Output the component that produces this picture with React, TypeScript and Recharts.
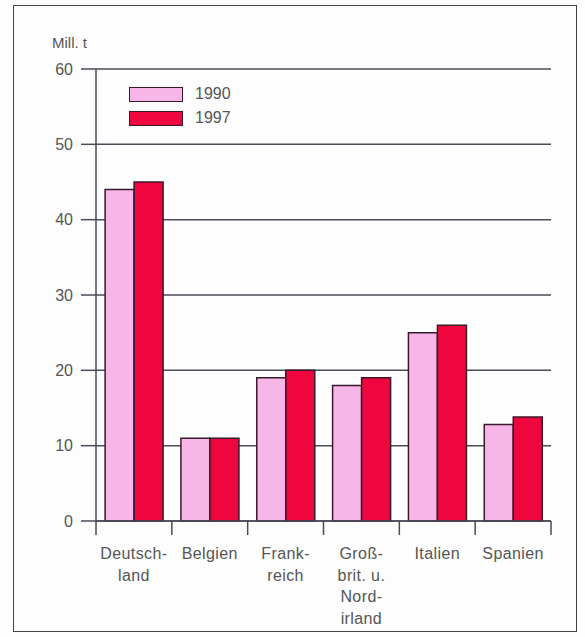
import React from 'react';
import { BarChart, Bar, XAxis, YAxis, CartesianGrid, Legend } from 'recharts';

const categories = ['Deutsch-\nland', 'Belgien', 'Frank-\nreich', 'Groß-\nbrit. u.\nNord-\nirland', 'Italien', 'Spanien'];
const values1990 = [44, 11, 19, 18, 25, 12.8];
const values1997 = [45, 11, 20, 19, 26, 13.8];
const yTicks = [0, 10, 20, 30, 40, 50, 60];
const seriesNames = ['1990', '1997'];

const data = categories.map((c, i) => ({ name: c, v1990: values1990[i], v1997: values1997[i] }));

const TEXT = '#555555';
const LINE = '#4a4a58';
const FONT = '"Liberation Sans", Arial, Helvetica, sans-serif';

const CatTick = (props: any) => {
  const { x, y, payload, index, visibleTicksCount } = props;
  const half = payload && typeof payload.offset === 'number' && payload.offset > 0 ? payload.offset : 0;
  const lines = String(payload.value).split('\n');
  const isLast = index === (visibleTicksCount ?? categories.length) - 1;
  return (
    <g>
      {half > 0 && (
        <line x1={x - half} x2={x - half} y1={y} y2={y + 14} stroke={LINE} strokeWidth={1.5} />
      )}
      {half > 0 && isLast && (
        <line x1={x + half} x2={x + half} y1={y} y2={y + 14} stroke={LINE} strokeWidth={1.5} />
      )}
      <text x={x} y={y} textAnchor="middle" fill={TEXT} fontSize={16} fontFamily={FONT} letterSpacing={0.4}>
        {lines.map((l: string, i: number) => (
          <tspan key={i} x={x} dy={i === 0 ? 38 : 21.5}>{l}</tspan>
        ))}
      </text>
    </g>
  );
};

const LegendContent = (props: any) => {
  const { payload } = props;
  return (
    <div style={{ fontFamily: FONT }}>
      {(payload || []).map((p: any, i: number) => (
        <div key={i} style={{ display: 'flex', alignItems: 'center', height: 24 }}>
          <div style={{ width: 52, height: 13, background: p.color, border: '1.5px solid #3a1a2a' }} />
          <span style={{ marginLeft: 12, fontSize: 16, color: TEXT }}>{p.value}</span>
        </div>
      ))}
    </div>
  );
};

export default function App() {
  return (
    <div style={{ position: 'absolute', left: 0, top: 0, width: 585, height: 637, background: '#fdfdfd' }}>
      <div style={{ position: 'absolute', left: 13, top: 5, width: 562, height: 625, border: '1.5px solid #444' }} />
      <div style={{ position: 'absolute', left: 52, top: 34, fontSize: 15, color: TEXT, fontFamily: FONT }}>Mill. t</div>
      <div style={{ position: 'absolute', left: 0, top: 0 }}>
        <BarChart
          width={585}
          height={637}
          data={data}
          margin={{ top: 69, right: 34, bottom: 6, left: 36 }}
          barCategoryGap="12%"
          barGap={0}
        >
          <CartesianGrid horizontal vertical={false} stroke={LINE} strokeWidth={1.5} />
          <XAxis
            dataKey="name"
            interval={0}
            height={110}
            axisLine={{ stroke: LINE, strokeWidth: 1.5 }}
            tickLine={false}
            tickSize={0}
            tickMargin={0}
            tick={<CatTick />}
          />
          <YAxis
            domain={[0, 60]}
            ticks={yTicks}
            width={60}
            tickSize={15}
            tickMargin={8}
            axisLine={{ stroke: LINE, strokeWidth: 1.5 }}
            tickLine={{ stroke: LINE, strokeWidth: 1.5 }}
            tick={{ fill: TEXT, fontSize: 16, fontFamily: FONT }}
          />
          <YAxis
            yAxisId="r"
            orientation="right"
            domain={[0, 60]}
            width={0}
            tick={false}
            tickLine={false}
            axisLine={{ stroke: LINE, strokeWidth: 1.5 }}
          />
          <Legend
            layout="vertical"
            verticalAlign="middle"
            align="center"
            content={<LegendContent />}
            wrapperStyle={{ position: 'absolute', left: 129, top: 82, width: 150 }}
          />
          <Bar dataKey="v1990" name={seriesNames[0]} fill="#f6b6e8" stroke="#3a1a2a" strokeWidth={1.5} isAnimationActive={false} />
          <Bar dataKey="v1997" name={seriesNames[1]} fill="#f0063e" stroke="#3a1a2a" strokeWidth={1.5} isAnimationActive={false} />
        </BarChart>
      </div>
    </div>
  );
}
